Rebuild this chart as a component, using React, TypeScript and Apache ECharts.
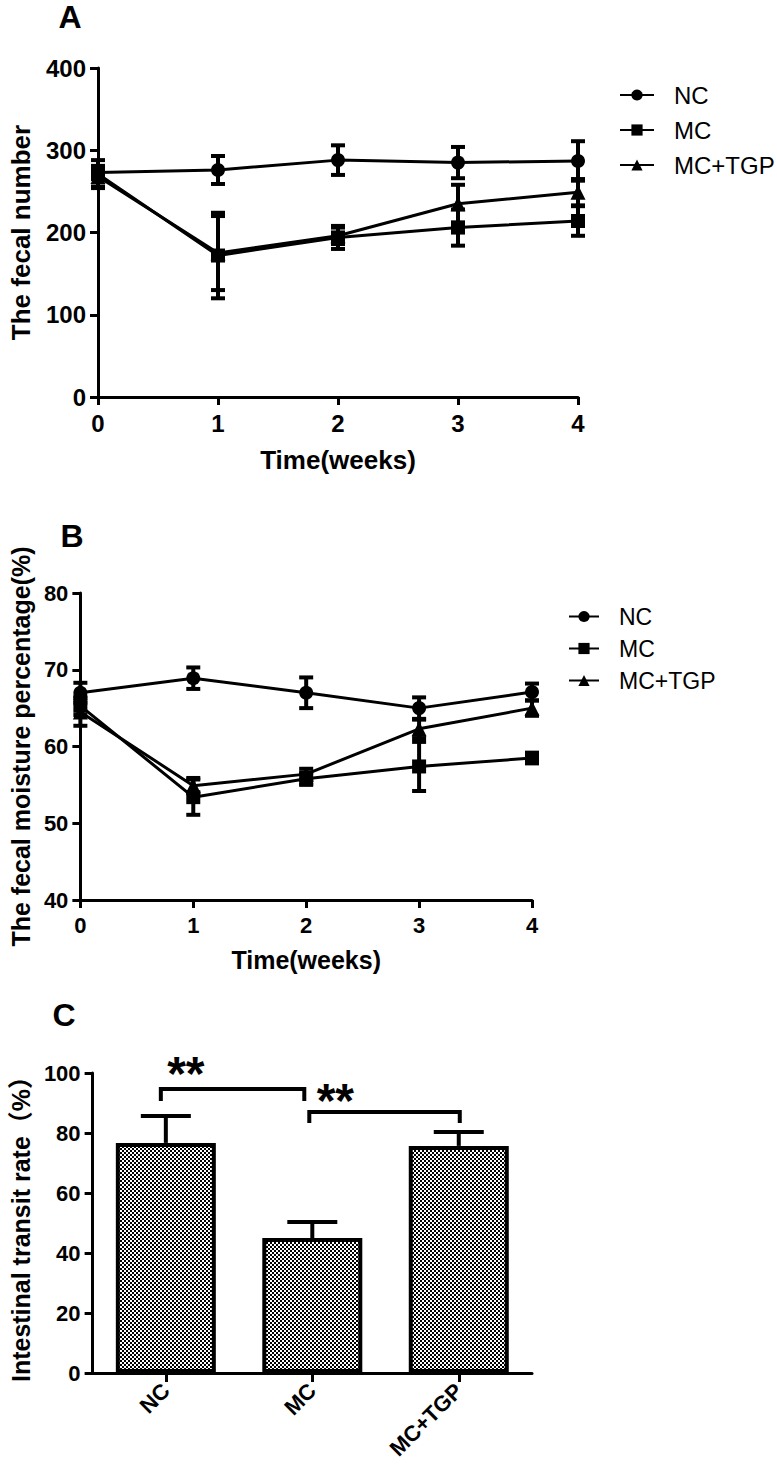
import React, { useEffect, useRef } from "react";
import * as echarts from "echarts";

// ---------- data ----------
const weeks = [0, 1, 2, 3, 4];
const seriesNames = ["NC", "MC", "MC+TGP"];
const seriesSymbols = ["circle", "rect", "triangle"];

// Panel A: fecal number
const fecalNumberNC = [273, 276, 288, 285, 287];
const fecalNumberNCErr = [8, 17, 18, 19, 24];
const fecalNumberMC = [271, 172, 194, 206, 214];
const fecalNumberMCErr = [17, 52, 14, 22, 18];
const fecalNumberTGP = [268, 175, 196, 235, 249];
const fecalNumberTGPErr = [12, 45, 10, 23, 16];
const fecalNumberTicks = [0, 100, 200, 300, 400];

// Panel B: fecal moisture percentage
const moistureNC = [67.0, 68.9, 67.0, 65.0, 67.1];
const moistureNCErr = [1.3, 1.4, 2.0, 1.4, 1.1];
const moistureMC = [65.3, 53.4, 55.8, 57.4, 58.5];
const moistureMCErr = [1.2, 2.3, 0.8, 3.2, 0.7];
const moistureTGP = [64.5, 54.9, 56.4, 62.3, 65.0];
const moistureTGPErr = [1.8, 1.0, 0.7, 1.2, 1.0];
const moistureTicks = [40, 50, 60, 70, 80];

// Panel C: intestinal transit rate
const groups = ["NC", "MC", "MC+TGP"];
const transitRate = [76.7, 45.0, 75.7];
const transitRateErr = [9.0, 5.3, 4.6];
const transitTicks = [0, 20, 40, 60, 80, 100];
// significance brackets
const bracketFrom = [0, 1];
const bracketTo = [1, 2];
const bracketTop = [94.7, 87.0];
const bracketDrop = [90.7, 83.3];
const bracketStarValue = [100.0, 91.0];
const bracketLabel = ["**", "**"];

// ---------- helpers ----------
const FONT = "'Liberation Sans', Arial, Helvetica, sans-serif";
const BLACK = "#000";

function errData(vals: number[], errs: number[]) {
  return weeks.map((w, i) => [w, vals[i] - errs[i], vals[i] + errs[i]]);
}
function lineData(vals: number[]) {
  return weeks.map((w, i) => [w, vals[i]]);
}

function errorBarRender(capHalf: number, lw: number) {
  return (params: any, api: any) => {
    const x = api.value(0);
    const pLo = api.coord([x, api.value(1)]);
    const pHi = api.coord([x, api.value(2)]);
    const style = { stroke: BLACK, lineWidth: lw, fill: "none" };
    return {
      type: "group",
      children: [
        { type: "line", shape: { x1: pHi[0], y1: pHi[1], x2: pLo[0], y2: pLo[1] }, style },
        { type: "line", shape: { x1: pHi[0] - capHalf, y1: pHi[1], x2: pHi[0] + capHalf, y2: pHi[1] }, style },
        { type: "line", shape: { x1: pLo[0] - capHalf, y1: pLo[1], x2: pLo[0] + capHalf, y2: pLo[1] }, style },
      ],
    };
  };
}

function barErrRender(params: any, api: any) {
  const x = api.value(0);
  const pLo = api.coord([x, api.value(1)]);
  const pHi = api.coord([x, api.value(2)]);
  const style = { stroke: BLACK, lineWidth: 4, fill: "none" };
  return {
    type: "group",
    children: [
      { type: "line", shape: { x1: pHi[0], y1: pHi[1], x2: pLo[0], y2: pLo[1] }, style },
      { type: "line", shape: { x1: pHi[0] - 25, y1: pHi[1], x2: pHi[0] + 25, y2: pHi[1] }, style },
    ],
  };
}

function bracketRender(params: any, api: any) {
  const i = params.dataIndex;
  const from = api.value(0);
  const to = api.value(1);
  const nudge = i === 0 ? [-5, -8] : [-3, 1];
  const a = api.coord([from, api.value(2)]);
  const aDrop = api.coord([from, api.value(3)]);
  const b = api.coord([to, api.value(2)]);
  const star = api.coord([from, api.value(4)]);
  return {
    type: "group",
    children: [
      {
        type: "polyline",
        shape: {
          points: [
            [a[0] + nudge[0], aDrop[1]],
            [a[0] + nudge[0], a[1]],
            [b[0] + nudge[1], a[1]],
            [b[0] + nudge[1], aDrop[1]],
          ],
        },
        style: { stroke: BLACK, lineWidth: 4, fill: "none" },
      },
      {
        type: "text",
        x: star[0] + 20 + (i === 0 ? 0 : 3),
        y: star[1],
        style: {
          text: bracketLabel[i],
          fontSize: 48,
          fontWeight: "bold",
          fontFamily: FONT,
          fill: BLACK,
          align: "center",
          verticalAlign: "middle",
        },
      },
    ],
  };
}

function axisCommon(fontSize: number) {
  return {
    axisLine: { show: true, onZero: false, lineStyle: { color: BLACK, width: 3 } },
    axisTick: { show: true, length: 8, lineStyle: { color: BLACK, width: 3 } },
    axisLabel: { fontSize, fontWeight: "bold", color: BLACK, fontFamily: FONT },
    splitLine: { show: false },
  };
}

function makePattern() {
  const c = document.createElement("canvas");
  c.width = 4;
  c.height = 4;
  const ctx = c.getContext("2d")!;
  ctx.fillStyle = "#fff";
  ctx.fillRect(0, 0, 4, 4);
  ctx.fillStyle = "#000";
  ctx.fillRect(0, 0, 2, 2);
  ctx.fillRect(2, 2, 2, 2);
  return { image: c, repeat: "repeat", imageWidth: 4, imageHeight: 4 } as any;
}

function buildOption() {
  const aSeries = [fecalNumberNC, fecalNumberMC, fecalNumberTGP];
  const aErr = [fecalNumberNCErr, fecalNumberMCErr, fecalNumberTGPErr];
  const bSeries = [moistureNC, moistureMC, moistureTGP];
  const bErr = [moistureNCErr, moistureMCErr, moistureTGPErr];

  const series: any[] = [];
  [0, 1].forEach((g) => {
    const vals = g === 0 ? aSeries : bSeries;
    const errs = g === 0 ? aErr : bErr;
    vals.forEach((v, k) => {
      series.push({
        type: "custom",
        name: seriesNames[k] + " error " + g,
        xAxisIndex: g,
        yAxisIndex: g,
        renderItem: errorBarRender(7, 4),
        data: errData(v, errs[k]),
        z: 2,
        silent: true,
      });
    });
    vals.forEach((v, k) => {
      series.push({
        type: "line",
        name: seriesNames[k],
        xAxisIndex: g,
        yAxisIndex: g,
        data: lineData(v),
        symbol: seriesSymbols[k],
        symbolSize: k === 2 ? 15 : 14,
        showSymbol: true,
        lineStyle: { color: BLACK, width: 3 },
        itemStyle: { color: BLACK, borderWidth: 0 },
        z: 3,
      });
    });
  });

  series.push({
    type: "bar",
    name: "Intestinal transit rate",
    xAxisIndex: 2,
    yAxisIndex: 2,
    data: transitRate,
    barWidth: 100,
    itemStyle: { color: makePattern(), borderColor: BLACK, borderWidth: 4 },
    z: 3,
  });
  series.push({
    type: "custom",
    name: "transit error",
    xAxisIndex: 2,
    yAxisIndex: 2,
    renderItem: barErrRender,
    data: groups.map((g, i) => [i, transitRate[i], transitRate[i] + transitRateErr[i]]),
    z: 2,
  });
  series.push({
    type: "custom",
    name: "significance",
    xAxisIndex: 2,
    yAxisIndex: 2,
    renderItem: bracketRender,
    clip: false,
    data: bracketFrom.map((f, i) => [f, bracketTo[i], bracketTop[i], bracketDrop[i], bracketStarValue[i]]),
    z: 4,
  });

  const titleStyle = (fs: number) => ({ fontSize: fs, fontWeight: "bold", color: BLACK, fontFamily: FONT });

  return {
    animation: false,
    backgroundColor: "#fff",
    textStyle: { fontFamily: FONT },
    grid: [
      { left: 90, top: 68, width: 488, height: 329 },
      { left: 72, top: 593, width: 460, height: 307 },
      { left: 82, top: 1073, width: 450, height: 300 },
    ],
    xAxis: [
      {
        gridIndex: 0, type: "value", min: 0, max: 4, interval: 1,
        name: "Time(weeks)", nameLocation: "middle", nameGap: 50, nameTextStyle: titleStyle(26),
        ...axisCommon(24),
        axisLabel: { ...axisCommon(24).axisLabel, margin: 14 },
      },
      {
        gridIndex: 1, type: "value", min: 0, max: 4, interval: 1,
        name: "Time(weeks)", nameLocation: "middle", nameGap: 47, nameTextStyle: titleStyle(25),
        ...axisCommon(22),
        axisLabel: { ...axisCommon(22).axisLabel, margin: 14 },
      },
      {
        gridIndex: 2, type: "category", data: groups,
        ...axisCommon(22),
        axisTick: { show: true, alignWithLabel: true, length: 9, lineStyle: { color: BLACK, width: 3 } },
        axisLabel: { ...axisCommon(22).axisLabel, rotate: 45, margin: 14, interval: 0 },
      },
    ],
    yAxis: [
      {
        gridIndex: 0, type: "value", min: fecalNumberTicks[0], max: fecalNumberTicks[fecalNumberTicks.length - 1], interval: 100,
        name: "The fecal number", nameLocation: "middle", nameGap: 64, nameTextStyle: titleStyle(26),
        ...axisCommon(24),
        axisLabel: { ...axisCommon(24).axisLabel, margin: 12 },
      },
      {
        gridIndex: 1, type: "value", min: moistureTicks[0], max: moistureTicks[moistureTicks.length - 1], interval: 10,
        name: "The fecal moisture percentage(%)", nameLocation: "middle", nameGap: 46, nameTextStyle: titleStyle(25),
        ...axisCommon(22),
        axisLabel: { ...axisCommon(22).axisLabel, margin: 12 },
      },
      {
        gridIndex: 2, type: "value", min: transitTicks[0], max: transitTicks[transitTicks.length - 1], interval: 20,
        name: "Intestinal transit rate（%）", nameLocation: "middle", nameGap: 58,
        nameTextStyle: { ...titleStyle(25), fontFamily: "'Liberation Sans', 'Noto Sans CJK SC', sans-serif" },
        ...axisCommon(22),
        axisLabel: { ...axisCommon(22).axisLabel, margin: 12 },
      },
    ],
    legend: [
      {
        data: seriesNames, orient: "vertical", left: 614, top: 78,
        itemWidth: 34, itemHeight: 14, itemGap: 11, selectedMode: false,
        textStyle: { fontSize: 24, color: BLACK, fontFamily: FONT, padding: [0, 0, 0, 15] },
      },
      {
        data: seriesNames, orient: "vertical", left: 563, top: 600,
        itemWidth: 30, itemHeight: 14, itemGap: 9, selectedMode: false,
        textStyle: { fontSize: 23, color: BLACK, fontFamily: FONT, padding: [0, 0, 0, 15] },
      },
    ],
    graphic: [
      { type: "text", x: 70, y: 17, style: { text: "A", fontSize: 32, fontWeight: "bold", fontFamily: FONT, fill: BLACK, align: "center", verticalAlign: "middle" } },
      { type: "text", x: 72, y: 536, style: { text: "B", fontSize: 32, fontWeight: "bold", fontFamily: FONT, fill: BLACK, align: "center", verticalAlign: "middle" } },
      { type: "text", x: 64, y: 1015, style: { text: "C", fontSize: 32, fontWeight: "bold", fontFamily: FONT, fill: BLACK, align: "center", verticalAlign: "middle" } },
    ],
    series,
  };
}

export default function App() {
  const ref = useRef<HTMLDivElement>(null);
  useEffect(() => {
    if (!ref.current) return;
    const chart = echarts.init(ref.current, undefined, { renderer: "svg" });
    chart.setOption(buildOption() as any);
    return () => chart.dispose();
  }, []);
  return (
    <div
      ref={ref}
      style={{ position: "absolute", left: 0, top: 0, width: 777, height: 1465, background: "#fff" }}
    />
  );
}
